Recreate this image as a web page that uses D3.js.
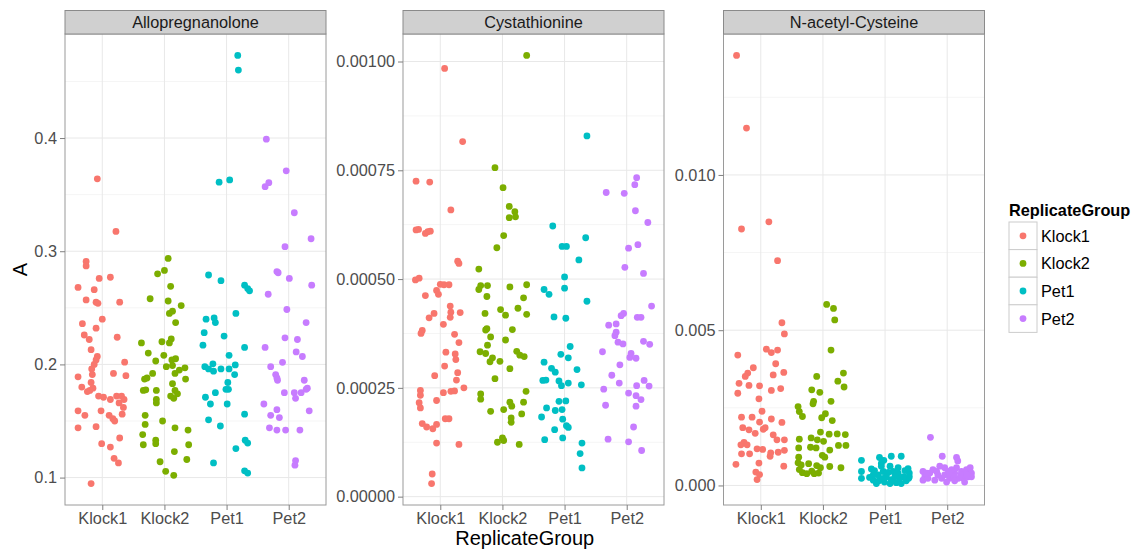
<!DOCTYPE html>
<html>
<head>
<meta charset="utf-8">
<script src="https://cdn.jsdelivr.net/npm/d3@7"></script>
<style>
  body { margin: 0; background: #ffffff; }
  svg { display: block; font-family: "Liberation Sans", Arial, Helvetica, sans-serif; }
</style>
</head>
<body>
<svg id="chart" width="1144" height="549"></svg>
<script>
// ---- categories ----
const groups = ["Klock1", "Klock2", "Pet1", "Pet2"];
const metabolites = ["Allopregnanolone", "Cystathionine", "N-acetyl-Cysteine"];

// ---- Allopregnanolone ----
const alloKlock1 = [0.364,0.3175,0.291,0.287,0.276,0.277,0.268,0.266,0.257,0.255,0.254,0.255,0.240,0.236,0.232,0.226,0.222,0.224,0.213,0.207,0.204,0.200,0.202,0.196,0.189,0.192,0.190,0.191,0.184,0.180,0.179,0.176,0.177,0.172,0.171,0.172,0.172,0.169,0.169,0.166,0.162,0.159,0.159,0.155,0.155,0.152,0.150,0.156,0.144,0.145,0.135,0.130,0.127,0.117,0.113,0.0947];
const alloKlock1Jitter = [-0.08,0.22,-0.26,-0.26,-0.05,0.13,-0.39,-0.13,-0.26,-0.10,-0.07,0.28,0.0,-0.32,-0.10,-0.29,-0.21,0.24,-0.18,-0.08,-0.10,-0.13,0.36,-0.17,-0.39,0.18,0.38,-0.16,-0.18,-0.33,-0.15,-0.24,-0.20,-0.06,0.02,0.23,0.31,0.35,0.13,0.27,0.34,-0.39,-0.02,-0.28,0.11,0.17,0.20,0.32,-0.39,-0.10,0.28,-0.01,0.13,0.19,0.26,-0.18];
const alloKlock2 = [0.2936,0.280,0.283,0.269,0.258,0.256,0.252,0.247,0.245,0.237,0.219,0.220,0.2225,0.219,0.210,0.208,0.203,0.204,0.205,0.198,0.199,0.197,0.195,0.192,0.188,0.187,0.192,0.187,0.183,0.177,0.177,0.1775,0.177,0.174,0.172,0.170,0.169,0.166,0.155,0.147,0.150,0.144,0.142,0.138,0.133,0.130,0.129,0.129,0.123,0.116,0.114,0.1055,0.102];
const alloKlock2Jitter = [0.06,-0.11,0.0,0.10,-0.23,0.06,0.27,0.13,0.08,0.18,-0.37,-0.04,0.11,0.08,-0.26,-0.01,-0.14,0.12,0.18,0.03,0.13,0.33,0.24,-0.19,-0.28,-0.32,0.17,0.34,0.13,-0.13,-0.34,-0.30,0.17,0.21,0.10,0.15,-0.13,-0.13,-0.31,-0.31,-0.03,0.17,0.38,-0.35,-0.14,-0.14,-0.34,0.39,0.16,0.36,-0.07,0.02,0.15];
const alloPet1 = [0.473,0.460,0.361,0.363,0.279,0.274,0.270,0.267,0.265,0.245,0.240,0.241,0.237,0.228,0.225,0.217,0.215,0.208,0.198,0.196,0.2005,0.194,0.196,0.196,0.1995,0.191,0.184,0.178,0.178,0.175,0.171,0.165,0.165,0.156,0.151,0.1456,0.133,0.1305,0.1256,0.113,0.106,0.104];
const alloPet1Jitter = [0.18,0.19,-0.12,0.05,-0.29,-0.09,0.29,0.34,0.37,0.15,-0.33,-0.20,-0.18,-0.36,-0.04,-0.38,0.29,0.04,-0.35,-0.29,-0.22,-0.21,-0.09,0.04,0.14,0.13,0.02,-0.01,0.03,-0.18,-0.34,-0.26,0.01,0.29,-0.29,-0.10,0.30,0.34,0.15,-0.21,0.29,0.34];
const alloPet2 = [0.399,0.371,0.357,0.3606,0.334,0.304,0.311,0.282,0.281,0.276,0.270,0.262,0.2485,0.237,0.2235,0.222,0.215,0.211,0.207,0.2018,0.198,0.191,0.188,0.186,0.186,0.175,0.175,0.170,0.175,0.178,0.179,0.165,0.160,0.155,0.153,0.159,0.144,0.142,0.142,0.142,0.115,0.111];
const alloPet2Jitter = [-0.36,-0.04,-0.38,-0.32,0.09,-0.06,0.36,-0.19,-0.17,0.01,0.37,-0.33,-0.03,0.28,-0.06,0.14,-0.38,0.12,0.22,-0.10,-0.29,-0.21,-0.19,-0.18,0.25,-0.07,0.09,0.11,0.20,0.28,0.30,-0.40,-0.19,-0.29,-0.15,0.33,-0.31,-0.19,-0.05,0.18,0.11,0.10];

// ---- Cystathionine ----
const cystKlock1 = [9.84e-4,8.16e-4,7.25e-4,7.23e-4,6.59e-4,6.13e-4,6.14e-4,6.05e-4,6.09e-4,6.10e-4,5.41e-4,5.36e-4,4.98e-4,5.02e-4,4.88e-4,4.87e-4,4.87e-4,4.74e-4,4.65e-4,4.62e-4,4.38e-4,4.23e-4,4.21e-4,4.11e-4,4.24e-4,4.12e-4,3.82e-4,3.75e-4,3.96e-4,3.73e-4,3.54e-4,3.32e-4,3.28e-4,3.15e-4,3.00e-4,2.85e-4,2.68e-4,2.78e-4,2.50e-4,2.44e-4,2.33e-4,2.16e-4,2.04e-4,2.39e-4,2.42e-4,2.43e-4,2.21e-4,1.79e-4,1.79e-4,1.68e-4,1.60e-4,1.56e-4,1.66e-4,1.23e-4,1.20e-4,0.52e-4,0.30e-4];
const cystKlock1Jitter = [0.07,0.36,-0.39,-0.17,0.17,-0.39,-0.35,-0.24,-0.20,-0.16,0.28,0.30,-0.40,-0.34,0.0,0.06,0.14,-0.06,-0.03,-0.24,0.16,0.32,-0.10,-0.18,0.17,0.16,-0.29,-0.31,0.05,0.23,0.30,0.09,0.24,0.25,0.07,0.28,0.26,-0.09,0.38,-0.32,-0.32,-0.34,-0.32,0.05,0.17,0.23,-0.06,0.08,0.14,-0.29,-0.22,-0.12,-0.06,-0.06,0.30,-0.13,-0.14];
const cystKlock2 = [10.14e-4,7.56e-4,7.10e-4,6.67e-4,6.55e-4,6.43e-4,6.41e-4,6.00e-4,5.72e-4,5.23e-4,4.85e-4,4.76e-4,4.85e-4,4.82e-4,4.87e-4,4.60e-4,4.57e-4,4.30e-4,4.17e-4,4.33e-4,4.19e-4,4.21e-4,3.83e-4,3.86e-4,3.67e-4,3.84e-4,3.60e-4,3.48e-4,3.33e-4,3.29e-4,3.19e-4,3.10e-4,3.11e-4,3.34e-4,3.25e-4,3.22e-4,2.94e-4,2.71e-4,2.36e-4,2.24e-4,2.42e-4,1.96e-4,2.00e-4,2.17e-4,2.08e-4,2.17e-4,1.90e-4,1.81e-4,1.71e-4,1.25e-4,1.35e-4,1.29e-4,1.20e-4];
const cystKlock2Jitter = [0.39,-0.12,0.01,0.11,0.20,0.21,0.11,0.02,-0.09,-0.38,-0.35,-0.38,-0.24,0.12,0.39,-0.25,0.34,-0.03,0.05,0.25,0.39,-0.28,-0.27,-0.25,-0.19,0.16,0.05,-0.24,-0.36,-0.27,-0.16,-0.20,-0.04,0.23,0.28,0.35,0.12,-0.12,-0.35,-0.35,0.38,-0.19,0.02,0.12,0.15,0.34,0.31,0.14,0.14,-0.08,0.00,0.02,0.27];
const cystPet1 = [8.29e-4,6.22e-4,5.95e-4,5.75e-4,5.75e-4,5.44e-4,5.05e-4,4.76e-4,4.65e-4,4.79e-4,4.49e-4,4.13e-4,4.10e-4,3.45e-4,3.27e-4,3.19e-4,3.09e-4,2.95e-4,2.86e-4,2.92e-4,2.67e-4,2.68e-4,2.66e-4,2.55e-4,2.61e-4,2.57e-4,2.19e-4,2.20e-4,2.04e-4,1.98e-4,2.00e-4,1.83e-4,1.78e-4,1.63e-4,1.59e-4,1.54e-4,1.31e-4,1.35e-4,1.23e-4,0.99e-4,0.66e-4];
const cystPet1Jitter = [0.36,-0.19,0.34,-0.04,0.03,0.23,0.0,-0.33,-0.25,0.0,0.36,-0.17,0.02,0.09,-0.06,0.06,-0.33,-0.21,-0.15,0.20,-0.35,-0.30,-0.09,-0.05,0.06,0.27,-0.09,0.02,-0.29,-0.15,-0.04,-0.37,-0.03,0.03,0.06,-0.16,-0.32,-0.03,0.28,0.25,0.28];
const cystPet2 = [7.33e-4,7.17e-4,6.99e-4,6.97e-4,6.57e-4,6.30e-4,5.71e-4,5.79e-4,5.27e-4,5.13e-4,4.38e-4,4.21e-4,4.16e-4,3.94e-4,3.97e-4,4.12e-4,4.12e-4,3.78e-4,3.70e-4,3.55e-4,3.51e-4,3.57e-4,3.50e-4,3.33e-4,3.29e-4,3.20e-4,3.18e-4,3.03e-4,2.79e-4,2.61e-4,2.67e-4,2.54e-4,2.55e-4,2.47e-4,2.38e-4,2.32e-4,2.23e-4,2.10e-4,2.08e-4,1.60e-4,1.32e-4,1.26e-4,1.06e-4];
const cystPet2Jitter = [0.16,0.13,-0.33,-0.04,0.14,0.34,0.03,0.18,-0.03,0.27,0.40,-0.05,-0.09,-0.29,-0.17,0.17,0.23,-0.17,-0.19,-0.14,-0.06,0.27,0.37,-0.39,0.07,0.05,0.15,-0.11,-0.24,-0.12,0.28,0.36,0.16,-0.37,0.03,0.15,0.23,-0.34,0.15,0.11,-0.30,0.03,0.24];

// ---- N-acetyl-Cysteine ----
const nacKlock1 = [13.85e-3,11.51e-3,8.26e-3,8.49e-3,7.24e-3,5.24e-3,4.88e-3,4.20e-3,4.39e-3,4.28e-3,4.36e-3,3.92e-3,3.79e-3,3.62e-3,3.51e-3,3.56e-3,3.64e-3,3.29e-3,3.22e-3,3.21e-3,2.97e-3,3.06e-3,3.12e-3,2.79e-3,2.39e-3,2.20e-3,2.20e-3,2.14e-3,2.04e-3,2.03e-3,1.86e-3,1.79e-3,1.68e-3,1.81e-3,1.86e-3,1.63e-3,1.47e-3,1.47e-3,1.39e-3,1.31e-3,1.31e-3,1.18e-3,1.16e-3,1.05e-3,1.07e-3,1.13e-3,1.02e-3,1.02e-3,0.94e-3,0.68e-3,0.72e-3,0.62e-3,0.43e-3,0.35e-3,0.19e-3];
const nacKlock1Jitter = [-0.39,-0.23,-0.31,0.13,0.27,0.34,0.38,-0.37,0.09,0.17,0.27,0.24,-0.12,-0.21,-0.25,0.20,0.37,-0.35,-0.19,-0.02,-0.37,0.17,0.32,-0.03,0.02,-0.31,-0.14,0.17,-0.02,0.34,-0.29,-0.19,-0.09,0.04,0.07,0.20,0.26,0.38,-0.27,-0.32,-0.22,-0.06,0.03,0.16,0.28,0.38,-0.31,-0.18,0.15,-0.40,-0.03,0.37,-0.08,-0.02,-0.06];
const nacKlock2 = [5.83e-3,5.70e-3,5.33e-3,4.36e-3,3.62e-3,3.51e-3,3.36e-3,3.17e-3,3.08e-3,3.00e-3,2.71e-3,2.63e-3,2.71e-3,2.54e-3,2.38e-3,2.22e-3,2.31e-3,2.18e-3,2.09e-3,1.49e-3,1.53e-3,1.72e-3,1.65e-3,1.66e-3,1.64e-3,1.47e-3,1.42e-3,1.23e-3,1.21e-3,1.29e-3,1.29e-3,1.21e-3,1.14e-3,0.97e-3,0.91e-3,0.91e-3,0.73e-3,0.66e-3,0.70e-3,0.64e-3,0.57e-3,0.61e-3,0.57e-3,0.41e-3,0.38e-3,0.46e-3,0.38e-3,0.40e-3,0.51e-3];
const nacKlock2Jitter = [0.06,0.17,0.19,0.13,0.33,-0.10,0.24,0.34,-0.18,-0.05,-0.15,-0.16,0.13,-0.40,-0.38,-0.33,0.04,-0.02,0.15,-0.38,-0.19,-0.04,0.10,0.23,0.36,-0.09,0.01,-0.20,-0.11,0.25,0.37,-0.39,0.11,-0.01,-0.39,0.03,-0.40,-0.35,-0.23,-0.10,-0.04,0.11,0.29,-0.33,-0.26,-0.18,-0.14,-0.07,-0.38];
const nacPet1 = [0.81e-3,0.45e-3,0.23e-3,0.53e-3,0.48e-3,0.90e-3,0.71e-3,0.81e-3,0.94e-3,0.94e-3,0.45e-3,0.42e-3,0.45e-3,0.40e-3,0.48e-3,0.54e-3,0.28e-3,0.17e-3,0.15e-3,0.11e-3,0.06e-3,0.09e-3,0.06e-3,0.15e-3,0.23e-3,0.34e-3,0.28e-3,0.19e-3,0.23e-3,0.34e-3,0.62e-3,0.28e-3,0.28e-3,0.26e-3,0.23e-3,0.40e-3,0.62e-3,0.57e-3,0.06e-3];
const nacPet1Jitter = [-0.38,-0.38,-0.38,-0.22,-0.17,-0.09,-0.06,-0.02,0.10,0.26,-0.03,0.05,0.13,0.21,0.32,0.37,0.39,-0.19,-0.10,-0.01,0.08,0.18,0.26,0.34,0.38,-0.11,0.02,0.10,0.24,-0.19,-0.06,0.16,0.30,-0.25,-0.03,0.39,0.08,0.21,-0.14];
const nacPet2 = [1.55e-3,0.94e-3,0.90e-3,0.79e-3,0.45e-3,0.28e-3,0.17e-3,0.40e-3,0.51e-3,0.34e-3,0.62e-3,0.57e-3,0.45e-3,0.23e-3,0.23e-3,0.40e-3,0.57e-3,0.45e-3,0.51e-3,0.57e-3,0.40e-3,0.28e-3,0.23e-3,0.11e-3,0.23e-3,0.28e-3,0.11e-3,0.17e-3,0.23e-3,0.34e-3,0.34e-3,0.28e-3,0.40e-3,0.45e-3,0.51e-3,0.40e-3,0.34e-3,0.15e-3];
const nacPet2Jitter = [-0.27,-0.08,0.15,0.17,-0.39,-0.36,-0.39,-0.28,-0.23,-0.15,-0.12,-0.04,0.02,-0.09,0.04,0.12,0.15,0.23,0.31,0.37,0.39,0.34,0.26,0.28,0.18,0.10,-0.01,-0.20,-0.31,-0.04,0.22,0.39,-0.33,-0.17,0.07,0.04,0.31,0.12];

// ---- axis tick values ----
const alloTicks = [0.1, 0.2, 0.3, 0.4];
const cystTicks = [0, 0.00025, 0.0005, 0.00075, 0.001];
const nacTicks = [0, 0.005, 0.010];

// ---- panel definitions built from the arrays above ----
const panels = [
  { name: metabolites[0], values: [alloKlock1, alloKlock2, alloPet1, alloPet2],
    jitter: [alloKlock1Jitter, alloKlock2Jitter, alloPet1Jitter, alloPet2Jitter], ticks: alloTicks, fmt: d3.format(".1f") },
  { name: metabolites[1], values: [cystKlock1, cystKlock2, cystPet1, cystPet2],
    jitter: [cystKlock1Jitter, cystKlock2Jitter, cystPet1Jitter, cystPet2Jitter], ticks: cystTicks, fmt: d3.format(".5f") },
  { name: metabolites[2], values: [nacKlock1, nacKlock2, nacPet1, nacPet2],
    jitter: [nacKlock1Jitter, nacKlock2Jitter, nacPet1Jitter, nacPet2Jitter], ticks: nacTicks, fmt: d3.format(".3f") }
];

// ---- look and layout ----
const color = d3.scaleOrdinal().domain(groups).range(["#F8766D", "#7CAE00", "#00BFC4", "#C77CFF"]);
const panelX = [[65, 326], [403, 664], [723.5, 984.5]];
const stripTop = 10.5, panelTop = 34, panelBottom = 505;
const smallFont = 16.3, titleFont = 20, pointR = 3.4;

const svg = d3.select("#chart");

panels.forEach((p, i) => {
  const [x0, x1] = panelX[i];
  const all = p.values.flat();
  const lo = d3.min(all), hi = d3.max(all), pad = (hi - lo) * 0.05;
  const y = d3.scaleLinear().domain([lo - pad, hi + pad]).range([panelBottom, panelTop]);
  const x = d3.scalePoint().domain(groups).range([x0, x1]).padding(0.6);
  const step = x.step();

  const g = svg.append("g");

  // panel background
  g.append("rect").attr("x", x0).attr("y", panelTop).attr("width", x1 - x0).attr("height", panelBottom - panelTop)
    .attr("fill", "#ffffff");

  // minor grid lines halfway between major ticks
  const dt = p.ticks[1] - p.ticks[0];
  const minor = [p.ticks[0] - dt / 2, ...p.ticks.map(t => t + dt / 2)]
    .filter(v => v > y.domain()[0] && v < y.domain()[1]);
  g.selectAll(".minor").data(minor).join("line")
    .attr("x1", x0).attr("x2", x1).attr("y1", d => y(d)).attr("y2", d => y(d))
    .attr("stroke", "#f5f5f5").attr("stroke-width", 1);
  // major grid lines
  g.selectAll(".majorY").data(p.ticks).join("line")
    .attr("x1", x0).attr("x2", x1).attr("y1", d => y(d)).attr("y2", d => y(d))
    .attr("stroke", "#e8e8e8").attr("stroke-width", 1);
  g.selectAll(".majorX").data(groups).join("line")
    .attr("x1", d => x(d)).attr("x2", d => x(d)).attr("y1", panelTop).attr("y2", panelBottom)
    .attr("stroke", "#e8e8e8").attr("stroke-width", 1);

  // jittered points
  groups.forEach((grp, k) => {
    const pts = p.values[k].map((v, j) => ({ v, j: p.jitter[k][j] }));
    g.selectAll(null).data(pts).join("circle")
      .attr("cx", d => x(grp) + d.j * step)
      .attr("cy", d => y(d.v))
      .attr("r", pointR)
      .attr("fill", color(grp));
  });

  // panel border
  g.append("rect").attr("x", x0).attr("y", panelTop).attr("width", x1 - x0).attr("height", panelBottom - panelTop)
    .attr("fill", "none").attr("stroke", "#9a9a9a").attr("stroke-width", 1);

  // strip
  g.append("rect").attr("x", x0).attr("y", stripTop).attr("width", x1 - x0).attr("height", panelTop - stripTop)
    .attr("fill", "#d0d0d0").attr("stroke", "#8a8a8a").attr("stroke-width", 1);
  g.append("text").attr("x", (x0 + x1) / 2).attr("y", (stripTop + panelTop) / 2)
    .attr("text-anchor", "middle").attr("dominant-baseline", "central")
    .attr("font-size", smallFont).attr("fill", "#1a1a1a").text(p.name);

  // y axis
  const yAxis = d3.axisLeft(y).tickValues(p.ticks).tickFormat(p.fmt).tickSize(5).tickPadding(3);
  const ya = g.append("g").attr("transform", `translate(${x0},0)`).call(yAxis);
  ya.select(".domain").remove();
  ya.selectAll(".tick line").attr("stroke", "#7f7f7f");
  ya.selectAll(".tick text").attr("font-size", smallFont).attr("fill", "#4d4d4d")
    .attr("font-family", "Liberation Sans, Arial, sans-serif");

  // x axis
  const xAxis = d3.axisBottom(x).tickSize(5).tickPadding(2);
  const xa = g.append("g").attr("transform", `translate(0,${panelBottom})`).call(xAxis);
  xa.select(".domain").remove();
  xa.selectAll(".tick line").attr("stroke", "#7f7f7f");
  xa.selectAll(".tick text").attr("font-size", smallFont).attr("fill", "#4d4d4d")
    .attr("font-family", "Liberation Sans, Arial, sans-serif");
});

// axis titles
svg.append("text").attr("x", (panelX[0][0] + panelX[2][1]) / 2).attr("y", 538)
  .attr("text-anchor", "middle").attr("dominant-baseline", "central")
  .attr("font-size", titleFont).attr("fill", "#000").text("ReplicateGroup");
svg.append("text").attr("transform", `translate(20,${(panelTop + panelBottom) / 2}) rotate(-90)`)
  .attr("text-anchor", "middle").attr("dominant-baseline", "central")
  .attr("font-size", titleFont).attr("fill", "#000").text("A");

// legend
const legend = svg.append("g").attr("transform", "translate(1009,0)");
legend.append("text").attr("x", 0).attr("y", 210).attr("dominant-baseline", "central")
  .attr("font-size", smallFont).attr("font-weight", "bold").attr("fill", "#000").text("ReplicateGroup");
const keySize = 27.6, keyTop = 222;
groups.forEach((grp, k) => {
  const ky = keyTop + k * keySize;
  legend.append("rect").attr("x", 0).attr("y", ky).attr("width", 28).attr("height", keySize)
    .attr("fill", "#ffffff").attr("stroke", "#cccccc").attr("stroke-width", 1);
  legend.append("circle").attr("cx", 14).attr("cy", ky + keySize / 2).attr("r", pointR).attr("fill", color(grp));
  legend.append("text").attr("x", 32).attr("y", ky + keySize / 2).attr("dominant-baseline", "central")
    .attr("font-size", smallFont).attr("fill", "#000").text(grp);
});
</script>
</body>
</html>
